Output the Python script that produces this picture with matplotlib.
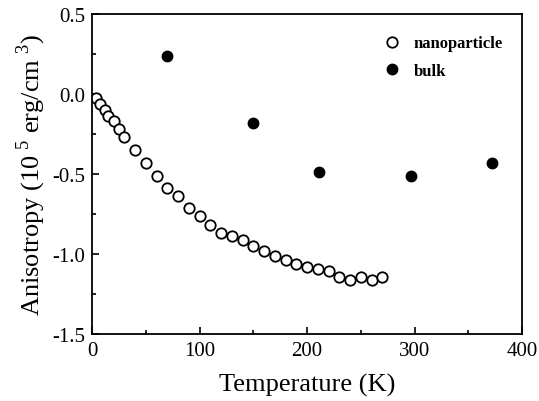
import matplotlib
matplotlib.use("Agg")
import matplotlib.pyplot as plt
from matplotlib.ticker import MultipleLocator

plt.rcParams["font.family"] = ["Liberation Serif", "DejaVu Serif"]
plt.rcParams["mathtext.fontset"] = "custom"
plt.rcParams["mathtext.rm"] = "Liberation Serif"

# nanoparticle data
nano_temp = [4, 7, 12, 15, 20, 25, 30, 40, 50, 60, 70, 80, 90, 100, 110, 120,
             130, 140, 150, 160, 170, 180, 190, 200, 210, 220, 230, 240, 250, 260, 270]
nano_k = [-0.025, -0.06, -0.10, -0.135, -0.17, -0.22, -0.27, -0.35, -0.43, -0.51,
          -0.59, -0.64, -0.71, -0.76, -0.82, -0.87, -0.885, -0.915, -0.95, -0.98,
          -1.01, -1.04, -1.065, -1.08, -1.094, -1.104, -1.146, -1.16, -1.146, -1.16, -1.146]

# bulk data
bulk_temp = [70, 150, 211, 297, 372]
bulk_k = [0.24, -0.18, -0.49, -0.51, -0.43]

fig = plt.figure(figsize=(5.39, 4.02), dpi=100)
ax = fig.add_axes([0.1707, 0.1667, 0.7978, 0.796])

ax.plot(nano_temp, nano_k, "o", mfc="white", mec="black", mew=1.3, ms=7.5,
        label="nanoparticle", linestyle="none")
ax.plot(bulk_temp, bulk_k, "o", mfc="black", mec="black", ms=7.5,
        label="bulk", linestyle="none")

ax.set_xlim(0, 400)
ax.set_ylim(-1.5, 0.5)
ax.xaxis.set_major_locator(MultipleLocator(100))
ax.xaxis.set_minor_locator(MultipleLocator(50))
ax.yaxis.set_major_locator(MultipleLocator(0.5))
ax.yaxis.set_minor_locator(MultipleLocator(0.25))
ax.yaxis.set_major_formatter(plt.FuncFormatter(lambda v, p: f"{v:.1f}"))
ax.tick_params(which="both", direction="in", top=False, right=False, labelsize=15, width=1.2)
ax.tick_params(which="major", length=5, pad=5)
ax.tick_params(which="minor", length=3)
for s in ax.spines.values():
    s.set_linewidth(1.3)

ax.set_xlabel("Temperature (K)", fontsize=19, labelpad=9)
ax.set_ylabel(r"Anisotropy (10$^{\ 5}$ erg/cm$^{\ 3}$)", fontsize=19, labelpad=3)

leg = ax.legend(loc="upper right", bbox_to_anchor=(0.99, 0.98), frameon=False,
                handletextpad=0.8, labelspacing=0.7, prop={"size": 12, "weight": "bold"},
                handlelength=1.0)

plt.savefig("out.png", dpi=100)
